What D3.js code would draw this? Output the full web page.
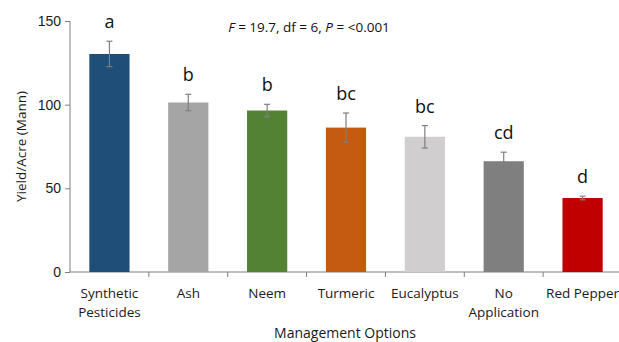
<!DOCTYPE html>
<html>
<head>
<meta charset="utf-8">
<title>Yield by management option</title>
<style>
	body { margin: 0; background: #fff; }
	svg { font-family: "Open Sans", sans-serif; }
	.axis path, .axis line { stroke: #7f7f7f; }
	.axis text { fill: #1a1a1a; font-size: 13.5px; }
	.err { stroke: #7f7f7f; stroke-width: 1.2; }
	.letter { font-size: 18px; fill: #111; text-anchor: middle; }
</style>
</head>
<body>
<script src="https://cdn.jsdelivr.net/npm/d3@7"></script>
<script>
	var categories = ["Synthetic Pesticides", "Ash", "Neem", "Turmeric", "Eucalyptus", "No Application", "Red Pepper"];
	var yields = [130.3, 101.3, 96.5, 86.3, 80.8, 66.2, 44.2];
	var errors = [7.6, 4.9, 3.7, 8.7, 6.7, 5.4, 1.1];
	var letters = ["a", "b", "b", "bc", "bc", "cd", "d"];
	var colors = ["#1f4e79", "#a5a5a5", "#548235", "#c55a11", "#d0cece", "#7f7f7f", "#c00000"];
	var yTicks = [0, 50, 100, 150];

	var margin = { top: 21, right: -3, bottom: 70, left: 70 },
		width = 619 - margin.left - margin.right,
		height = 342 - margin.top - margin.bottom;

	var svg = d3.select("body").append("svg")
		.attr("width", 619).attr("height", 342)
		.append("g")
		.attr("transform", "translate(" + margin.left + "," + margin.top + ")");

	var x = d3.scaleBand().domain(categories).range([0, width]).paddingInner(0.49).paddingOuter(0.245);
	var y = d3.scaleLinear().domain([0, 150]).range([height, 0]);

	// y axis
	var yAxis = svg.append("g").attr("class", "axis")
		.call(d3.axisLeft(y).tickValues(yTicks).tickSize(5).tickPadding(4).tickSizeOuter(0));
	yAxis.selectAll("text").style("font-size", "14px");
	yAxis.select(".domain").attr("d", "M0," + y(0) + "V" + y(150));

	// x axis: ticks at category boundaries
	var step = x.step();
	var xg = svg.append("g").attr("class", "axis")
		.attr("transform", "translate(0," + height + ")");
	xg.append("path").attr("d", "M0,0H" + width);
	xg.selectAll("line.tick").data(categories.slice(1)).enter().append("line")
		.attr("x1", function(d, i) { return (i + 1) * step; })
		.attr("x2", function(d, i) { return (i + 1) * step; })
		.attr("y1", 0).attr("y2", 5);
	var labels = xg.selectAll("text").data(categories).enter().append("text")
		.attr("x", function(d) { return x(d) + x.bandwidth() / 2; })
		.attr("y", 26)
		.attr("text-anchor", "middle");
	labels.each(function(d) {
		var parts = d === "Red Pepper" ? [d] : d.split(" ");
		var t = d3.select(this);
		parts.forEach(function(p, i) {
			t.append("tspan").attr("x", x(d) + x.bandwidth() / 2).attr("dy", i ? 19 : 0).text(p);
		});
	});

	// bars
	svg.selectAll("rect.bar").data(categories).enter().append("rect")
		.attr("class", "bar")
		.attr("x", function(d) { return x(d); })
		.attr("width", x.bandwidth())
		.attr("y", function(d, i) { return y(yields[i]); })
		.attr("height", function(d, i) { return height - y(yields[i]); })
		.attr("fill", function(d, i) { return colors[i]; });

	// error bars
	var eb = svg.selectAll("g.errbar").data(categories).enter().append("g").attr("class", "err")
		.attr("transform", function(d) { return "translate(" + (x(d) + x.bandwidth() / 2) + ",0)"; });
	eb.append("line").attr("y1", function(d, i) { return y(yields[i] + errors[i]); })
		.attr("y2", function(d, i) { return y(yields[i] - errors[i]); });
	eb.append("line").attr("x1", -3).attr("x2", 3)
		.attr("y1", function(d, i) { return y(yields[i] + errors[i]); })
		.attr("y2", function(d, i) { return y(yields[i] + errors[i]); });
	eb.append("line").attr("x1", -3).attr("x2", 3)
		.attr("y1", function(d, i) { return y(yields[i] - errors[i]); })
		.attr("y2", function(d, i) { return y(yields[i] - errors[i]); });

	// significance letters
	svg.selectAll("text.letter").data(categories).enter().append("text")
		.attr("class", "letter")
		.attr("x", function(d) { return x(d) + x.bandwidth() / 2; })
		.attr("y", function(d, i) { return y(yields[i] + errors[i]) - 13; })
		.text(function(d, i) { return letters[i]; });

	// stats annotation
	var stat = svg.append("text").attr("x", 239).attr("y", 11)
		.attr("text-anchor", "middle").style("font-size", "13.5px").attr("fill", "#111");
	stat.append("tspan").style("font-style", "italic").text("F");
	stat.append("tspan").text(" = 19.7, df = 6, ");
	stat.append("tspan").style("font-style", "italic").text("P");
	stat.append("tspan").text(" = <0.001");

	// axis titles
	svg.append("text").attr("x", 275).attr("y", height + 66)
		.attr("text-anchor", "middle").style("font-size", "14px").attr("fill", "#1a1a1a")
		.text("Management Options");
	svg.append("text").attr("transform", "translate(-44," + (y(75) - 0) + ") rotate(-90)")
		.attr("text-anchor", "middle").style("font-size", "13.5px").attr("fill", "#1a1a1a")
		.text("Yield/Acre (Mann)");
</script>
</body>
</html>
